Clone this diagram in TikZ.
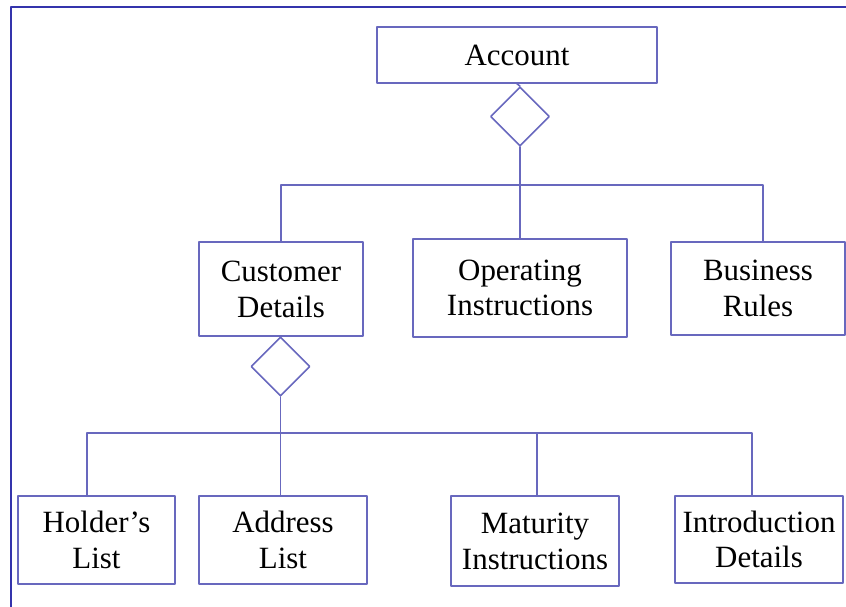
\documentclass[tikz,border=0pt]{standalone}
\usepackage{fontspec}
\setmainfont{Liberation Serif}
\usetikzlibrary{shapes.geometric}
\definecolor{boxblue}{RGB}{104,104,190}
\definecolor{frameblue}{RGB}{52,52,172}
\begin{document}
\begin{tikzpicture}[line cap=round,line join=round,
  part/.style={draw=boxblue,line width=0.45pt,align=center,inner sep=0pt,
    font=\fontsize{8.8}{10.2}\selectfont},
  agg/.style={diamond,draw=boxblue,line width=0.45pt,inner sep=0pt,minimum size=0.59cm},
  link/.style={boxblue,line width=0.45pt}]
  \useasboundingbox (0,0) rectangle (8.46,6.07);
  \draw[frameblue,line width=0.6pt] (0.11,0) -- (0.11,6.00) -- (8.46,6.00);
  \coordinate (bar1) at (0,4.22);
  \coordinate (bar2) at (0,1.74);
  % top level
  \node[part,minimum width=2.80cm,minimum height=0.56cm] (acc) at (5.17,5.52) {Account};
  \node[agg] (accd) at (5.20,4.905) {};
  % second level
  \node[part,minimum width=1.64cm,minimum height=0.94cm] (cust) at (2.81,3.18) {Customer\\Details};
  \node[part,minimum width=2.14cm,minimum height=0.98cm] (ops) at (5.20,3.19) {Operating\\Instructions};
  \node[part,minimum width=1.74cm,minimum height=0.93cm] (bus) at (7.58,3.185) {Business\\Rules};
  \node[agg] (custd) at (2.805,2.405) {};
  % third level
  \node[part,minimum width=1.57cm,minimum height=0.88cm] (hold) at (0.965,0.67) {Holder’s\\List};
  \node[part,minimum width=1.68cm,minimum height=0.88cm] (addr) at (2.83,0.67) {Address\\List};
  \node[part,minimum width=1.68cm,minimum height=0.90cm] (mat) at (5.35,0.66) {Maturity\\Instructions};
  \node[part,minimum width=1.68cm,minimum height=0.87cm] (intro) at (7.59,0.675) {Introduction\\Details};
  % links
  \draw[link] (acc.south) -- (accd.north);
  \draw[link] (accd.south) -- (ops.north);
  \draw[link] (cust.north) -- (cust.north |- bar1) -- ([xshift=0.05cm]bus.north |- bar1) -- ([xshift=0.05cm]bus.north);
  \draw[link] (custd.south) -- (custd.south |- addr.north);
  \draw[link] ([xshift=-0.095cm]hold.north) -- ([xshift=-0.095cm]hold.north |- bar2)
    -- ([xshift=-0.07cm]intro.north |- bar2) -- ([xshift=-0.07cm]intro.north);
  \draw[link] ([xshift=0.02cm]mat.north) -- ([xshift=0.02cm]mat.north |- bar2);
\end{tikzpicture}
\end{document}
